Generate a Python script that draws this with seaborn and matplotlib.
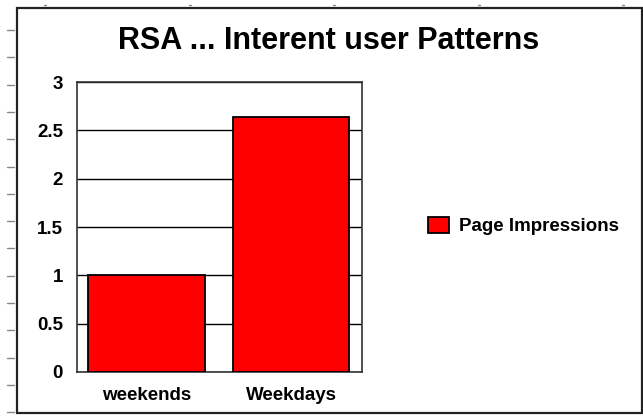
import pandas as pd
import matplotlib
matplotlib.use("Agg")
import matplotlib.pyplot as plt
from matplotlib.lines import Line2D
from matplotlib.patches import Rectangle
import seaborn as sns

# data
categories = ["weekends", "Weekdays"]
values = [1.0, 2.64]
series = ["Page Impressions", "Page Impressions"]
y_ticks = [0, 0.5, 1, 1.5, 2, 2.5, 3]
y_labels = ["0", "0.5", "1", "1.5", "2", "2.5", "3"]

df = pd.DataFrame({"day": categories, "value": values, "series": series})

sns.set_style("white")
plt.rcParams["font.family"] = ["Liberation Sans", "DejaVu Sans"]
plt.rcParams["font.weight"] = "bold"
plt.rcParams["text.color"] = "black"
plt.rcParams["xtick.color"] = "black"
plt.rcParams["ytick.color"] = "black"

fig = plt.figure(figsize=(6.43, 4.16), dpi=100)
ax = fig.add_axes([77 / 643, 44 / 416, 285 / 643, 290 / 416])

sns.barplot(data=df, x="day", y="value", hue="series", palette={"Page Impressions": "#ff0000"},
            saturation=1, edgecolor="black", linewidth=1.3, width=0.807, ax=ax, zorder=3)

ax.set_xlim(-0.48, 1.49)
ax.set_ylim(0, 3)
ax.set_yticks(y_ticks)
ax.set_yticklabels(y_labels)
ax.yaxis.grid(True, color="black", linewidth=1, zorder=0)
ax.set_axisbelow(True)
ax.set_xlabel("")
ax.set_ylabel("")
ax.tick_params(axis="y", length=0, pad=10, labelsize=13.5, labelcolor="black")
ax.tick_params(axis="x", length=0, pad=11, labelsize=13.5, labelcolor="black")
for lbl in ax.get_xticklabels() + ax.get_yticklabels():
    lbl.set_fontweight("bold")
for s in ax.spines.values():
    s.set_color("#333333")
    s.set_linewidth(1.2)

# legend to the right
handles, labels = ax.get_legend_handles_labels()
ax.get_legend().remove()
leg = fig.legend(handles, labels, loc="center left", bbox_to_anchor=(428 / 643, 1 - 226 / 416),
                 frameon=False, fontsize=13.5, handlelength=1.1, handleheight=1.0,
                 handletextpad=0.55, borderpad=0, borderaxespad=0)
for t in leg.get_texts():
    t.set_fontweight("bold")
    t.set_color("black")

fig.text(329 / 643, 1 - 41 / 416, "RSA ... Interent user Patterns", ha="center", va="center",
         fontsize=22, fontweight="bold", color="black")

# outer frame and ruler marks
fig.patches.append(Rectangle((17 / 643, 1 - 413 / 416), 625 / 643, 405 / 416, transform=fig.transFigure,
                             fill=False, edgecolor="#222222", linewidth=1.6))
for i in range(15):
    yy = 1 - (30 + 27.3 * i) / 416
    fig.lines.append(Line2D([7 / 643, 14 / 643], [yy, yy], transform=fig.transFigure,
                            color="#888888", linewidth=1))
for xx in [44, 189, 333, 478, 622]:
    fig.lines.append(Line2D([xx / 643, (xx + 1.5) / 643], [1 - 5 / 416, 1 - 5 / 416],
                            transform=fig.transFigure, color="#888888", linewidth=1))

fig.savefig("out.png", dpi=100)
